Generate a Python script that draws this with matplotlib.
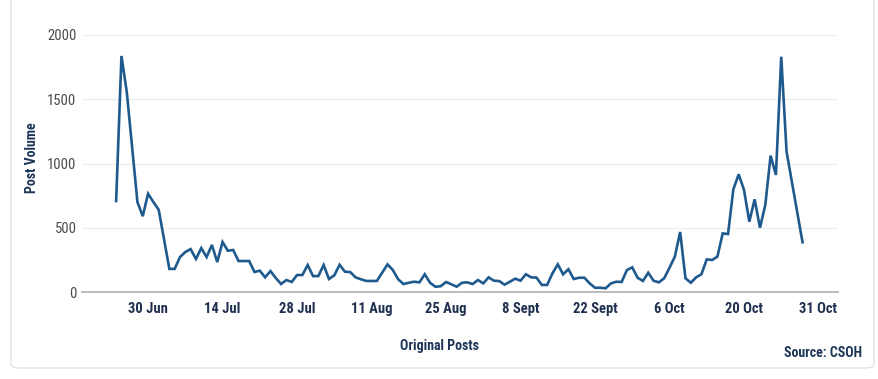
import numpy as np
import pandas as pd
import matplotlib
matplotlib.use("Agg")
import matplotlib.pyplot as plt
from matplotlib.patches import FancyBboxPatch

# daily post volume, 24 Jun - 31 Oct
start_date = "2024-06-24"
post_volume = [
    708, 1837, 1556, 1130, 700, 590, 765, 700, 640, 410,
    180, 180, 272, 311, 334, 257, 342, 272, 366, 233,
    389, 321, 327, 241, 241, 241, 156, 166, 114, 163,
    109, 62, 93, 78, 132, 132, 210, 124, 124, 210,
    101, 130, 212, 158, 155, 114, 99, 86, 86, 86,
    150, 215, 171, 99, 62, 72, 80, 75, 138, 72,
    41, 45, 78, 60, 41, 72, 75, 62, 93, 67,
    114, 88, 85, 57, 80, 104, 88, 138, 114, 112,
    55, 55, 145, 215, 138, 177, 101, 111, 111, 67,
    33, 33, 29, 67, 80, 78, 171, 192, 111, 86,
    150, 88, 75, 107, 189, 275, 467, 107, 72, 114,
    138, 254, 249, 275, 456, 451, 799, 916, 794, 547,
    721, 500, 677, 1061, 911, 1831, 1092, 857, 622, 387,
]
tick_labels = ["30 Jun", "14 Jul", "28 Jul", "11 Aug", "25 Aug",
               "8 Sept", "22 Sept", "6 Oct", "20 Oct", "31 Oct"]
y_ticks = [0, 500, 1000, 1500, 2000]

dates = pd.date_range(start_date, periods=len(post_volume), freq="D")
tick_dates = pd.date_range("2024-06-30", periods=len(tick_labels), freq="14D")

plt.rcParams['font.family'] = ['Roboto Condensed', 'Liberation Sans Narrow', 'Roboto', 'DejaVu Sans']

fig = plt.figure(figsize=(8.79, 3.79), dpi=100)
ax = fig.add_axes([82 / 879, 1 - 292 / 379, (838 - 82) / 879, (292 - 35) / 379])

ax.plot(dates, post_volume, color="#1f5a8e", lw=1.9, solid_joinstyle="miter")

ax.set_ylim(0, 2000)
ax.set_xlim(pd.Timestamp("2024-06-17 14:00"), pd.Timestamp("2024-11-06 16:00"))
ax.set_yticks(y_ticks)
ax.set_xticks(tick_dates)
ax.set_xticklabels(tick_labels)
ax.tick_params(axis="x", length=0, pad=7, labelsize=10.5, labelcolor="#1e2f4f")
ax.tick_params(axis="y", length=0, pad=4, labelsize=10.5, labelcolor="#4a4a4a")
for lab in ax.get_xticklabels():
    lab.set_fontweight("semibold")

ax.grid(axis="y", color="#eeeeee", lw=1)
ax.set_axisbelow(True)
for s in ["top", "right", "left"]:
    ax.spines[s].set_visible(False)
ax.spines["bottom"].set_color("#b0b0b0")
ax.spines["bottom"].set_linewidth(1.2)

fig.text(32 / 879, 1 - 158 / 379, "Post Volume", rotation=90, ha="center", va="center",
         fontsize=10, color="#1d3557", fontweight="semibold")
fig.text(0.5, 1 - 346 / 379, "Original Posts", ha="center", va="center",
         fontsize=10, color="#1d3557", fontweight="semibold")
fig.text(862 / 879, 1 - 353 / 379, "Source: CSOH", ha="right", va="center",
         fontsize=10, color="#1d3557", fontweight="semibold")

# light frame round the chart
frame = FancyBboxPatch((11 / 879, 11 / 379), (874 - 11) / 879, 1.2,
                       boxstyle="round,pad=0,rounding_size=0.01",
                       transform=fig.transFigure, fill=False,
                       edgecolor="#e3e3e3", lw=1, clip_on=False)
fig.patches.append(frame)

fig.savefig("out.png", dpi=100)
